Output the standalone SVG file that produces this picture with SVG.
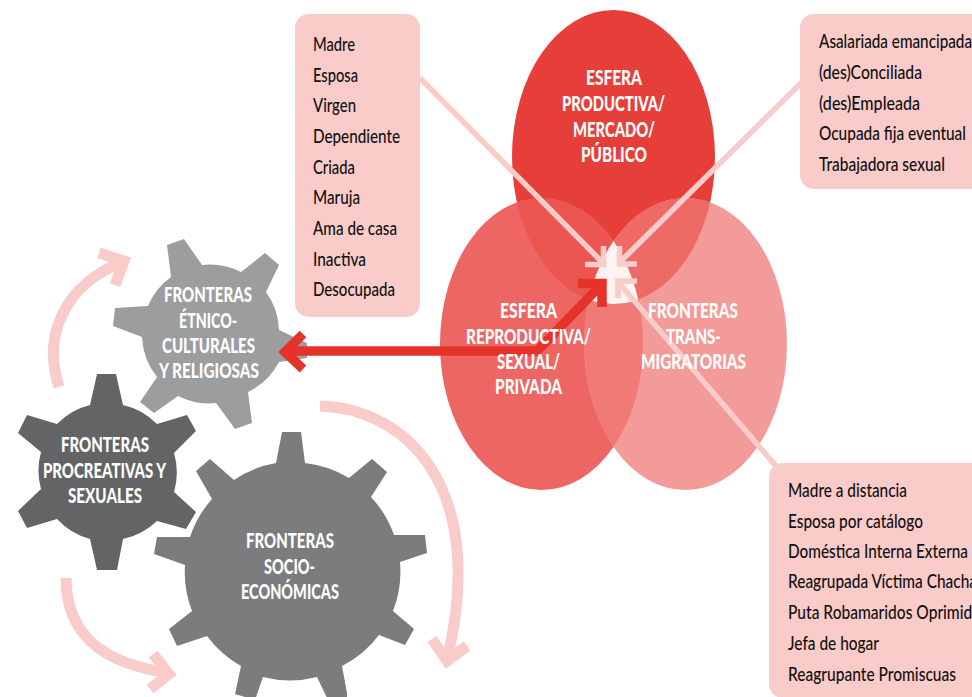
<svg xmlns="http://www.w3.org/2000/svg" width="972" height="697" viewBox="0 0 972 697">
<style>
text{font-family:Lato,"Open Sans","Liberation Sans",sans-serif}
.b{font-size:18.5px;font-weight:500;fill:#111110}
.w{font-size:20px;font-weight:900;fill:#fff}
.box{fill:#f9cbc9}
.pale{fill:none;stroke:#f9cbc9;stroke-width:11;stroke-miterlimit:10}
.thin{fill:none;stroke:#f9cbc9;stroke-width:5.5;stroke-miterlimit:10}
.red{fill:none;stroke:#e6332a;stroke-width:9.5;stroke-miterlimit:10}
</style>
<defs>
<ellipse id="eT" cx="613.5" cy="157" rx="101.5" ry="147"/>
<ellipse id="eL" cx="541.5" cy="344" rx="101.5" ry="146"/>
<ellipse id="eR" cx="685.5" cy="344" rx="101.5" ry="146"/>
<clipPath id="cT"><use href="#eT"/></clipPath>
<clipPath id="cL"><use href="#eL"/></clipPath>
<clipPath id="cR"><use href="#eR"/></clipPath>
</defs>
<g id="esfera-productiva"><use href="#eT" fill="#e63f3a"/></g>
<g id="esfera-reproductiva"><use href="#eL" fill="#ee6663"/><use href="#eT" fill="#ec5650" clip-path="url(#cL)"/></g>
<g id="fronteras-trans"><use href="#eR" fill="#f39b98"/><use href="#eT" fill="#ee6a66" clip-path="url(#cR)"/><use href="#eL" fill="#f07a76" clip-path="url(#cR)"/>
<g clip-path="url(#cT)"><use href="#eL" fill="#fff3f2" clip-path="url(#cR)"/></g></g>

<g id="gear-etnico"><path fill="#9c9d9f" d="M171,277L167,245L184,239L202,265A68,68 0 0 1 241,272L265,253L279,265L266,292A68,68 0 0 1 279,330L307,343L307,358L279,362A68,68 0 0 1 248,392L252,423L235,429L216,403A68,68 0 0 1 178,396L154,413L140,402L157,377A68,68 0 0 1 142,337L113,326L115,308L148,306A68,68 0 0 1 171,277Z"/></g>
<g id="gear-procreativas"><path fill="#636466" d="M90,405L97,374L116,374L123,405A69,69 0 0 1 157,424L187,415L196,431L174,453A69,69 0 0 1 174,492L196,512L186,529L157,521A69,69 0 0 1 123,539L117,570L97,570L90,539A69,69 0 0 1 57,519L27,528L18,511L41,489A69,69 0 0 1 41,452L18,433L27,415L57,424A69,69 0 0 1 90,405Z"/></g>
<g id="gear-socio"><path fill="#7b7c7e" d="M276,463L282,432L301,432L305,463A107,107 0 0 1 349,478L372,459L387,472L371,497A107,107 0 0 1 394,535L425,535L427,553L400,562A107,107 0 0 1 393,611L414,629L405,645L379,635A107,107 0 0 1 342,666L347,693L347,700L328,700L317,677A107,107 0 0 1 263,677L255,700L235,694L241,666A107,107 0 0 1 207,636L177,646L169,629L192,611A107,107 0 0 1 185,565L154,554L157,537L190,537A107,107 0 0 1 212,499L196,471L210,459L234,480A107,107 0 0 1 276,463Z"/></g>

<g id="connectors">
<path class="thin" d="M420,78L603,263M802,82L619,263M776,466L618,282"/>
<path class="thin" d="M603.5,246V264.5H585M619.5,246V264H637M637,281H618V298"/>
<path class="red" d="M290,351H537L602,284"/>
<path class="red" d="M578,283.5H602V307"/>
<path class="red" d="M303,334L285,352L303,369"/>
<path class="pale" d="M59,387C42,335 65,285 122,262"/>
<path class="pale" d="M99,253L124,261L115,285"/>
<path class="pale" d="M66,578C66,640 110,665 170,673"/>
<path class="pale" d="M153,654L169,674L150,689"/>
<path class="pale" d="M320,406C400,408 490,480 447,660"/>
<path class="pale" d="M432,639L447,661L467,646"/>
</g>

<g id="box-tradicional"><rect class="box" x="295" y="14" width="125" height="303" rx="14"/>
<text class="b" x="313" y="51" textLength="42" lengthAdjust="spacingAndGlyphs">Madre</text>
<text class="b" x="313" y="82" textLength="45" lengthAdjust="spacingAndGlyphs">Esposa</text>
<text class="b" x="313" y="112" textLength="43" lengthAdjust="spacingAndGlyphs">Virgen</text>
<text class="b" x="313" y="143" textLength="87" lengthAdjust="spacingAndGlyphs">Dependiente</text>
<text class="b" x="313" y="174" textLength="42" lengthAdjust="spacingAndGlyphs">Criada</text>
<text class="b" x="313" y="204" textLength="47" lengthAdjust="spacingAndGlyphs">Maruja</text>
<text class="b" x="313" y="235" textLength="84" lengthAdjust="spacingAndGlyphs">Ama de casa</text>
<text class="b" x="313" y="266" textLength="53" lengthAdjust="spacingAndGlyphs">Inactiva</text>
<text class="b" x="313" y="296" textLength="82" lengthAdjust="spacingAndGlyphs">Desocupada</text>
</g>
<g id="box-laboral"><rect class="box" x="800" y="14" width="200" height="175" rx="14"/>
<text class="b" x="819" y="48" textLength="153" lengthAdjust="spacingAndGlyphs">Asalariada emancipada</text>
<text class="b" x="819" y="79" textLength="103" lengthAdjust="spacingAndGlyphs">(des)Conciliada</text>
<text class="b" x="819" y="110" textLength="101" lengthAdjust="spacingAndGlyphs">(des)Empleada</text>
<text class="b" x="819" y="140" textLength="147" lengthAdjust="spacingAndGlyphs">Ocupada fija eventual</text>
<text class="b" x="819" y="171" textLength="126" lengthAdjust="spacingAndGlyphs">Trabajadora sexual</text>
</g>
<g id="box-migrante"><rect class="box" x="769" y="463" width="240" height="235" rx="14"/>
<text class="b" x="788" y="497" textLength="119" lengthAdjust="spacingAndGlyphs">Madre a distancia</text>
<text class="b" x="788" y="528" textLength="135" lengthAdjust="spacingAndGlyphs">Esposa por catálogo</text>
<text class="b" x="788" y="558" textLength="180" lengthAdjust="spacingAndGlyphs">Doméstica Interna Externa</text>
<text class="b" x="788" y="588" textLength="189" lengthAdjust="spacingAndGlyphs">Reagrupada Víctima Chacha</text>
<text class="b" x="788" y="619" textLength="192" lengthAdjust="spacingAndGlyphs">Puta Robamaridos Oprimida</text>
<text class="b" x="788" y="650" textLength="91" lengthAdjust="spacingAndGlyphs">Jefa de hogar</text>
<text class="b" x="788" y="681" textLength="168" lengthAdjust="spacingAndGlyphs">Reagrupante Promiscuas</text>
</g>

<g id="labels-esferas">
<text class="w" x="586" y="85" textLength="56" lengthAdjust="spacingAndGlyphs">ESFERA</text>
<text class="w" x="562" y="111" textLength="103" lengthAdjust="spacingAndGlyphs">PRODUCTIVA/</text>
<text class="w" x="573" y="137" textLength="82" lengthAdjust="spacingAndGlyphs">MERCADO/</text>
<text class="w" x="581" y="162" textLength="66" lengthAdjust="spacingAndGlyphs">PÚBLICO</text>
<text class="w" x="500" y="318" textLength="57" lengthAdjust="spacingAndGlyphs">ESFERA</text>
<text class="w" x="466" y="344" textLength="125" lengthAdjust="spacingAndGlyphs">REPRODUCTIVA/</text>
<text class="w" x="497" y="369" textLength="63" lengthAdjust="spacingAndGlyphs">SEXUAL/</text>
<text class="w" x="495" y="394" textLength="67" lengthAdjust="spacingAndGlyphs">PRIVADA</text>
<text class="w" x="648" y="318" textLength="90" lengthAdjust="spacingAndGlyphs">FRONTERAS</text>
<text class="w" x="666" y="344" textLength="55" lengthAdjust="spacingAndGlyphs">TRANS-</text>
<text class="w" x="641" y="369" textLength="105" lengthAdjust="spacingAndGlyphs">MIGRATORIAS</text>
</g>
<g id="labels-gears">
<text class="w" x="164" y="302" textLength="88" lengthAdjust="spacingAndGlyphs">FRONTERAS</text>
<text class="w" x="179" y="328" textLength="58" lengthAdjust="spacingAndGlyphs">ÉTNICO-</text>
<text class="w" x="162" y="353" textLength="93" lengthAdjust="spacingAndGlyphs">CULTURALES</text>
<text class="w" x="159" y="378" textLength="100" lengthAdjust="spacingAndGlyphs">Y RELIGIOSAS</text>
<text class="w" x="61" y="452" textLength="88" lengthAdjust="spacingAndGlyphs">FRONTERAS</text>
<text class="w" x="43" y="478" textLength="123" lengthAdjust="spacingAndGlyphs">PROCREATIVAS Y</text>
<text class="w" x="68" y="503" textLength="74" lengthAdjust="spacingAndGlyphs">SEXUALES</text>
<text class="w" x="246" y="548" textLength="88" lengthAdjust="spacingAndGlyphs">FRONTERAS</text>
<text class="w" x="264" y="574" textLength="51" lengthAdjust="spacingAndGlyphs">SOCIO-</text>
<text class="w" x="241" y="599" textLength="98" lengthAdjust="spacingAndGlyphs">ECONÓMICAS</text>
</g>
</svg>
